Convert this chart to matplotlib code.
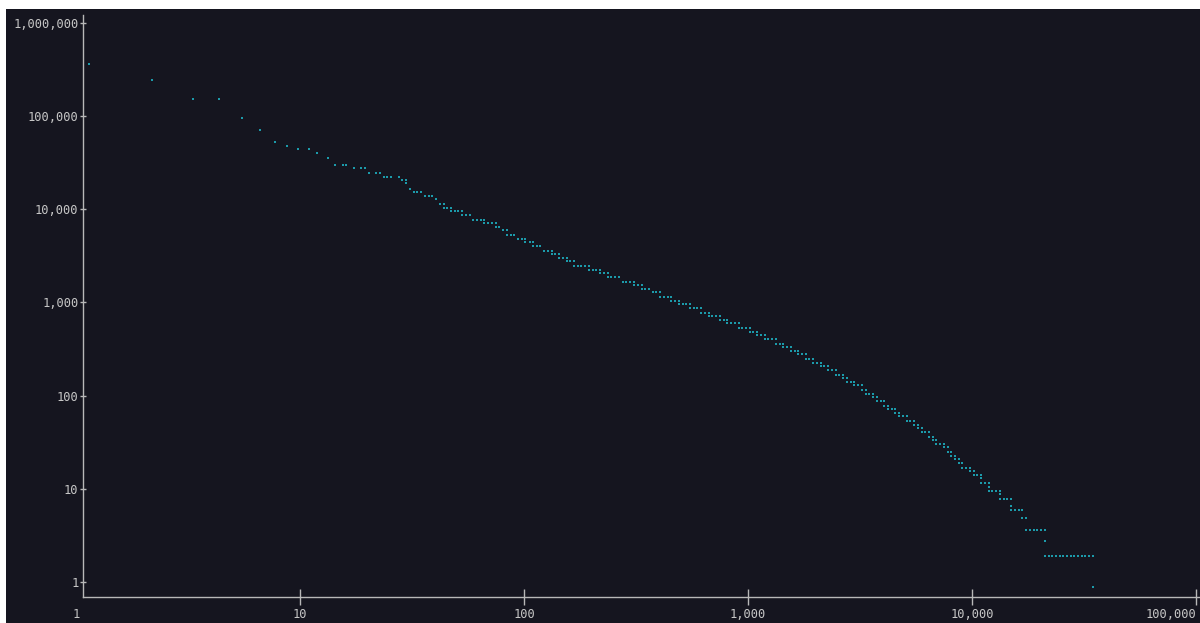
import matplotlib
matplotlib.use("Agg")
import matplotlib.pyplot as plt
from matplotlib.patches import Rectangle
from matplotlib.ticker import FixedLocator, FuncFormatter, NullLocator

# frequency levels (y) and the ranks (x) sitting on each level
freq_levels = [
    358000, 243000, 153000, 95700, 70600, 52500, 47900, 44200, 40300, 35600,
    30000, 27600, 24400, 22300, 20500, 18900, 16600, 15300, 13900, 12800,
    11400, 10400, 9550, 8710, 7700, 7100, 6480, 5970, 5280, 4820,
    4440, 4050, 3580, 3300, 3010, 2780, 2450, 2240, 2060, 1880,
    1670, 1540, 1400, 1290, 1140, 1040, 960, 876, 774, 709,
    651, 600, 527, 484, 443, 407, 360, 329, 303, 277,
    245, 225, 206, 189, 167, 153, 140, 130, 114, 105,
    95.8, 87.4, 77.3, 71.2, 65.5, 59.9, 52.9, 48.7, 44.5, 41.0,
    36.2, 33.1, 30.2, 27.9, 24.6, 22.6, 20.7, 18.9, 16.7, 15.4,
    14.2, 12.9, 11.4, 10.4, 9.54, 8.79, 7.77, 6.54, 5.97, 4.86,
    3.61, 2.77, 1.90, 0.884,
]

rank_runs = [
    [1.14], [2.18], [3.34, 4.35], [5.49], [6.65], [7.76], [8.72], [9.77, 11.0], [11.9], [13.3],
    [14.4, 15.6, 16.1], [17.4, 18.8, 19.5], [20.3, 21.9, 22.8], [23.6, 24.5, 25.5, 27.6],
    [28.6, 29.7], [29.7], [31.0], [32.2, 33.4, 34.7], [36.1, 37.6, 39.0], [40.5],
    [42.2, 43.8], [43.8, 45.5, 47.1], [47.1, 49.1, 50.9, 52.9], [52.9, 54.9, 57.2],
    [59.2, 61.7, 64.1, 66.5], [66.5, 69.3, 72.0, 74.8], [74.8, 77.6], [80.6, 83.7],
    [83.7, 87.2, 90.5], [94.0, 97.7, 101],
    [101, 106, 110], [110, 114, 118], [123, 128, 133], [133, 138, 143], [143, 149, 155],
    [155, 161, 167], [167, 174, 180, 187, 195], [195, 203, 210, 218], [218, 227, 236],
    [236, 245, 255, 266],
    [276, 286, 297, 309], [309, 322, 335], [335, 348, 361], [375, 390, 405],
    [405, 422, 438, 455], [455, 472, 492], [492, 511, 530, 551], [551, 572, 594, 617],
    [617, 641, 668], [668, 693, 720, 750],
    [750, 779, 808], [808, 840, 872, 909], [909, 943, 980, 1018], [1018, 1056, 1097],
    [1097, 1143, 1187], [1187, 1232, 1280, 1334], [1334, 1385, 1438], [1438, 1493, 1551],
    [1551, 1616, 1677], [1677, 1742, 1809],
    [1809, 1878, 1951], [1951, 2033, 2112], [2112, 2191, 2276], [2276, 2371, 2463],
    [2463, 2556, 2655], [2655, 2767], [2767, 2874, 2983], [2983, 3098, 3218],
    [3218, 3353], [3353, 3479, 3614],
    [3614, 3766], [3766, 3912, 4060], [4060, 4217], [4217, 4381, 4546], [4546, 4737],
    [4737, 4920, 5110], [5110, 5303, 5509], [5509, 5741], [5741, 5963], [5963, 6188, 6427],
    [6427, 6677], [6677, 6928], [6928, 7220, 7499], [7499, 7789], [7789, 8083],
    [8083, 8396], [8396, 8721], [8721, 9050], [9050, 9401, 9797], [9797, 10180],
    [10180, 10560, 10970], [10970], [10970, 11430, 11870], [11870],
    [11870, 12320, 12800, 13300], [13300], [13300, 13850, 14380, 14930], [14930],
    [14930, 15510, 16160, 16770], [16770, 17420],
    [17420, 18150, 18860, 19560, 20320, 21180], [21180],
    [21180, 22000, 22830, 23710, 24630, 25560, 26550, 27580, 28620, 29730,
     30880, 32050, 33300, 34690],
    [34690],
]

x_ticks = [10, 100, 1000, 10000, 100000]
y_ticks = [1, 10, 100, 1000, 10000, 100000, 1000000]

ranks = [r for run in rank_runs for r in run]
freqs = [f for run, f in zip(rank_runs, freq_levels) for _ in run]

bg = "#15151f"
line_col = "#b8b8b8"
text_col = "#c6c6c6"
plt.rcParams["font.family"] = ["DejaVu Sans Mono"]

fig = plt.figure(figsize=(12, 6.23), dpi=100)
fig.patch.set_facecolor("white")
fig.add_artist(Rectangle((6 / 1200, 0), 1194 / 1200, 614 / 623,
                         transform=fig.transFigure, facecolor=bg,
                         edgecolor="none", zorder=0))

ax = fig.add_axes([83 / 1200, 25.7 / 623, 1117 / 1200, 582.3 / 623])
ax.set_facecolor(bg)
ax.set_xscale("log")
ax.set_yscale("log")
ax.set_xlim(1.0746, 104200)
ax.set_ylim(0.6855, 1.209e6)

ax.plot(ranks, freqs, linestyle="none", marker="s", markersize=1.5,
        markeredgewidth=0, color="#1c9aaa", clip_on=False)

fmt = FuncFormatter(lambda v, _: f"{v:,.0f}")
ax.xaxis.set_major_locator(FixedLocator(x_ticks))
ax.yaxis.set_major_locator(FixedLocator(y_ticks))
ax.xaxis.set_major_formatter(fmt)
ax.yaxis.set_major_formatter(fmt)
ax.xaxis.set_minor_locator(NullLocator())
ax.yaxis.set_minor_locator(NullLocator())

for side in ("top", "right"):
    ax.spines[side].set_visible(False)
for side in ("left", "bottom"):
    ax.spines[side].set_color(line_col)
    ax.spines[side].set_linewidth(1.0)

ax.tick_params(axis="x", direction="inout", length=11.5, width=1.0,
               color=line_col, labelcolor=text_col, labelsize=8.7, pad=2.2)
ax.tick_params(axis="y", direction="inout", length=4.5, width=1.0,
               color=line_col, labelcolor=text_col, labelsize=8.7, pad=1.0)
ax.get_xticklabels()[-1].set_horizontalalignment("right")

# the "1" on the x axis sits just left of the plotting area
ax.annotate("1", xy=(1, 0), xycoords=("data", "axes fraction"),
            xytext=(0, -7.9), textcoords="offset points", ha="center", va="top",
            color=text_col, fontsize=8.7, annotation_clip=False)

fig.savefig("out.png", dpi=100, facecolor=fig.get_facecolor())
